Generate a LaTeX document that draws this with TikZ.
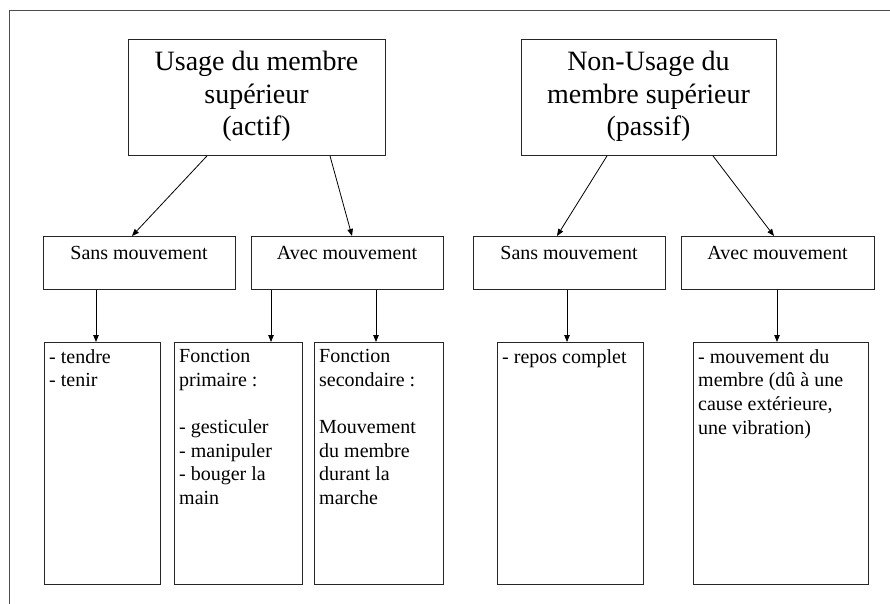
\documentclass[tikz,border=0pt]{standalone}
\usepackage{fontspec}
\setmainfont{Liberation Serif}
\usetikzlibrary{calc,arrows.meta}
\tikzset{
  box/.style={draw=black!85, line width=0.9pt, rectangle, inner sep=0pt, anchor=north west},
  toptext/.style={font={\fontsize{28pt}{32.5pt}\selectfont}, align=center, inner sep=0pt, anchor=north},
  midtext/.style={font={\fontsize{20pt}{23.6pt}\selectfont}, inner sep=0pt, anchor=base},
  bottext/.style={font={\fontsize{20pt}{23.6pt}\selectfont}, align=left, inner sep=0pt, anchor=north west},
  arr/.style={draw=black, line width=0.8pt, -{Triangle[length=7pt,width=5.5pt]}},
  frame/.style={draw=black!70, line width=1pt}
}
\begin{document}
\begin{tikzpicture}[x=1pt,y=1pt]
\useasboundingbox (0,0) rectangle (890,-604);
% outer frame (open at right and bottom)
\coordinate (fbl) at (9,-610);
\coordinate (ftl) at (9,-11);
\coordinate (ftr) at (895,-11);
\draw[frame] (fbl) -- (ftl) -- (ftr);

% top boxes
\node[box, minimum width=257pt, minimum height=116pt] (t1) at (128,-39) {};
\node[box, minimum width=255pt, minimum height=116pt] (t2) at (521,-39) {};
\node[toptext] (t1txt) at (256.5,-50.9) {Usage du membre\\supérieur\\(actif)};
\node[toptext] (t2txt) at (648.5,-50.9) {Non-Usage du\\membre supérieur\\(passif)};

% middle boxes
\node[box, minimum width=192pt, minimum height=53pt] (m1) at (43,-236) {};
\node[box, minimum width=192pt, minimum height=53pt] (m2) at (251,-236) {};
\node[box, minimum width=192pt, minimum height=53pt] (m3) at (473,-236) {};
\node[box, minimum width=193pt, minimum height=53pt] (m4) at (681,-236) {};
\node[midtext] (m1txt) at (139,-259) {Sans mouvement};
\node[midtext] (m2txt) at (347,-259) {Avec mouvement};
\node[midtext] (m3txt) at (569,-259) {Sans mouvement};
\node[midtext] (m4txt) at (777.5,-259) {Avec mouvement};

% bottom boxes
\node[box, minimum width=116pt, minimum height=242pt] (b1) at (44,-342) {};
\node[box, minimum width=128pt, minimum height=242pt] (b2) at (174,-342) {};
\node[box, minimum width=129pt, minimum height=242pt] (b3) at (314,-342) {};
\node[box, minimum width=146pt, minimum height=242pt] (b4) at (497,-342) {};
\node[box, minimum width=175pt, minimum height=242pt] (b5) at (693,-342) {};
\node[bottext] (b1txt) at (49,-349.3) {- tendre\\- tenir};
\node[bottext] (b2txt) at (179,-349.3) {Fonction\\primaire :\\[23.6pt]- gesticuler\\- manipuler\\- bouger la\\main};
\node[bottext] (b3txt) at (319,-349.3) {Fonction\\secondaire :\\[23.6pt]Mouvement\\du membre\\durant la\\marche};
\node[bottext] (b4txt) at (502,-349.3) {- repos complet};
\node[bottext] (b5txt) at (698,-349.3) {- mouvement du\\membre (dû à une\\cause extérieure,\\une vibration)};

% diagonal arrows
\draw[arr] ($(t1.south west)+(79,0)$) -- ($(m1.north west)+(89,0)$);
\draw[arr] ($(t1.south west)+(202,0)$) -- ($(m2.north west)+(101,0)$);
\draw[arr] ($(t2.south west)+(86,0)$) -- ($(m3.north west)+(84,0)$);
\draw[arr] ($(t2.south west)+(192,0)$) -- ($(m4.north west)+(93,0)$);

% vertical arrows
\draw[arr] ($(m1.south west)+(53,0)$) coordinate (v1) -- (v1 |- b1.north);
\draw[arr] ($(m2.south west)+(20,0)$) coordinate (v2) -- (v2 |- b2.north);
\draw[arr] ($(m2.south west)+(125,0)$) coordinate (v3) -- (v3 |- b3.north);
\draw[arr] ($(m3.south west)+(94,0)$) coordinate (v4) -- (v4 |- b4.north);
\draw[arr] ($(m4.south west)+(96,0)$) coordinate (v5) -- (v5 |- b5.north);
\end{tikzpicture}
\end{document}
